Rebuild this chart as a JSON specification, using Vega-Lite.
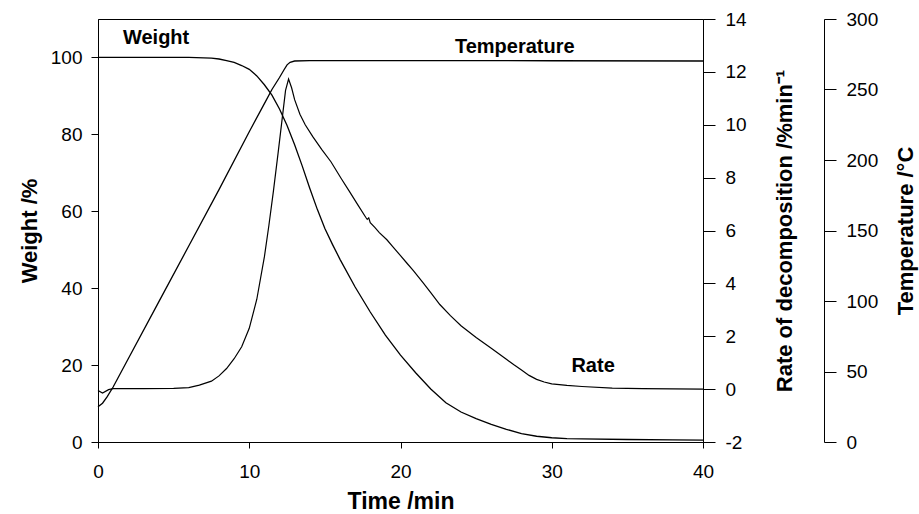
{
  "$schema": "https://vega.github.io/schema/vega-lite/v6.json",
  "width": 605,
  "height": 423,
  "autosize": {"type": "none"},
  "padding": {"left": 98, "top": 19, "right": 216, "bottom": 72},
  "background": "white",
  "config": {
    "view": {"stroke": "black", "strokeWidth": 1},
    "font": "Liberation Sans",
    "axis": {
      "grid": false,
      "domainColor": "black",
      "tickColor": "black",
      "labelColor": "black",
      "titleColor": "black",
      "labelFont": "Liberation Sans",
      "titleFont": "Liberation Sans",
      "labelFontSize": 19,
      "titleFontSize": 22,
      "titleFontWeight": "bold",
      "labelFlush": false,
      "labelExpr": "'' + datum.value"
    }
  },
  "datasets": {
    "weight": [
      {"t": 0, "W": 100}, {"t": 2, "W": 100}, {"t": 4, "W": 100}, {"t": 6, "W": 100},
      {"t": 7, "W": 99.9}, {"t": 7.5, "W": 99.8}, {"t": 8, "W": 99.6}, {"t": 8.5, "W": 99.2},
      {"t": 9, "W": 98.7}, {"t": 9.5, "W": 97.9}, {"t": 10, "W": 96.9}, {"t": 10.5, "W": 95.2},
      {"t": 11, "W": 92.9}, {"t": 11.5, "W": 90.2}, {"t": 12, "W": 86.6}, {"t": 12.5, "W": 82.3},
      {"t": 13, "W": 77.3}, {"t": 13.5, "W": 71.8}, {"t": 14, "W": 66}, {"t": 14.5, "W": 60.5},
      {"t": 15, "W": 55.5}, {"t": 15.5, "W": 51.4}, {"t": 16, "W": 47.5}, {"t": 17, "W": 40.3},
      {"t": 18, "W": 33.8}, {"t": 19, "W": 27.8}, {"t": 20, "W": 22.6}, {"t": 21, "W": 18},
      {"t": 22, "W": 13.8}, {"t": 23, "W": 10.2}, {"t": 24, "W": 7.8}, {"t": 25, "W": 6.1},
      {"t": 26, "W": 4.6}, {"t": 27, "W": 3.3}, {"t": 28, "W": 2.2}, {"t": 29, "W": 1.5},
      {"t": 30, "W": 1.1}, {"t": 31, "W": 0.9}, {"t": 32, "W": 0.8}, {"t": 35, "W": 0.65},
      {"t": 38, "W": 0.55}, {"t": 40, "W": 0.5}
    ],
    "rate": [
      {"t": 0, "R": -0.05}, {"t": 0.3, "R": -0.15}, {"t": 0.7, "R": -0.02}, {"t": 1, "R": 0.02},
      {"t": 3, "R": 0.02}, {"t": 5, "R": 0.03}, {"t": 6, "R": 0.06}, {"t": 6.7, "R": 0.15},
      {"t": 7.5, "R": 0.3}, {"t": 8, "R": 0.5}, {"t": 8.5, "R": 0.78}, {"t": 9, "R": 1.15},
      {"t": 9.5, "R": 1.6}, {"t": 10, "R": 2.3}, {"t": 10.5, "R": 3.4}, {"t": 11, "R": 5.0},
      {"t": 11.3, "R": 6.2}, {"t": 11.6, "R": 7.5}, {"t": 11.9, "R": 8.9}, {"t": 12.15, "R": 10.1},
      {"t": 12.4, "R": 11.3}, {"t": 12.6, "R": 11.73}, {"t": 12.8, "R": 11.4}, {"t": 13, "R": 10.95},
      {"t": 13.35, "R": 10.4}, {"t": 13.7, "R": 10.0}, {"t": 14.2, "R": 9.55}, {"t": 14.8, "R": 9.06},
      {"t": 15.4, "R": 8.6}, {"t": 16.1, "R": 7.95}, {"t": 16.6, "R": 7.5}, {"t": 17.2, "R": 6.95},
      {"t": 17.7, "R": 6.5}, {"t": 17.8, "R": 6.42}, {"t": 17.9, "R": 6.48}, {"t": 18.0, "R": 6.3},
      {"t": 18.3, "R": 6.12}, {"t": 18.6, "R": 5.92}, {"t": 19.1, "R": 5.65}, {"t": 19.5, "R": 5.38},
      {"t": 20, "R": 5.05}, {"t": 20.4, "R": 4.78}, {"t": 20.85, "R": 4.48}, {"t": 21.5, "R": 4.02},
      {"t": 22, "R": 3.65}, {"t": 22.6, "R": 3.2}, {"t": 23.3, "R": 2.78}, {"t": 24, "R": 2.4},
      {"t": 25, "R": 1.95}, {"t": 26, "R": 1.55}, {"t": 27, "R": 1.13}, {"t": 27.5, "R": 0.92},
      {"t": 28, "R": 0.72}, {"t": 28.5, "R": 0.52}, {"t": 29, "R": 0.37}, {"t": 29.5, "R": 0.27},
      {"t": 30, "R": 0.2}, {"t": 31, "R": 0.14}, {"t": 32, "R": 0.1}, {"t": 34, "R": 0.04},
      {"t": 36, "R": 0.02}, {"t": 40, "R": 0}
    ],
    "temp": [
      {"t": 0, "T": 25}, {"t": 0.3, "T": 27.5}, {"t": 0.6, "T": 32}, {"t": 1, "T": 39},
      {"t": 2, "T": 59}, {"t": 4, "T": 99}, {"t": 6, "T": 139}, {"t": 8, "T": 179},
      {"t": 10, "T": 220}, {"t": 11, "T": 240}, {"t": 11.5, "T": 250}, {"t": 12, "T": 258.5},
      {"t": 12.3, "T": 264}, {"t": 12.5, "T": 267.5}, {"t": 12.7, "T": 269.3}, {"t": 13, "T": 270.2},
      {"t": 14, "T": 270.5}, {"t": 20, "T": 270.5}, {"t": 30, "T": 270.4}, {"t": 40, "T": 270.2}
    ],
    "labels": [
      {"t": 1.65, "W": 103.6, "label": "Weight"},
      {"t": 23.6, "W": 101.2, "label": "Temperature"},
      {"t": 31.3, "W": 18.2, "label": "Rate"}
    ]
  },
  "encoding": {
    "x": {
      "field": "t", "type": "quantitative",
      "scale": {"domain": [0, 40], "nice": false},
      "axis": {"values": [0, 10, 20, 30, 40], "title": "Time /min", "titleFontSize": 23, "tickSize": 6, "labelPadding": 14, "titlePadding": 9}
    }
  },
  "layer": [
    {
      "layer": [
        {
          "data": {"name": "weight"},
          "mark": {"type": "line", "color": "black", "strokeWidth": 1.3},
          "encoding": {
            "y": {
              "field": "W", "type": "quantitative",
              "scale": {"domain": [0, 110], "nice": false},
              "axis": {"orient": "left", "values": [0, 20, 40, 60, 80, 100], "title": "Weight /%", "tickSize": 7, "labelPadding": 9, "titlePadding": 9}
            }
          }
        },
        {
          "data": {"name": "labels"},
          "mark": {"type": "text", "align": "left", "baseline": "alphabetic", "fontWeight": "bold", "fontSize": 20, "font": "Liberation Sans", "color": "black"},
          "encoding": {
            "y": {"field": "W", "type": "quantitative"},
            "text": {"field": "label"}
          }
        }
      ]
    },
    {
      "data": {"name": "rate"},
      "mark": {"type": "line", "color": "black", "strokeWidth": 1.2},
      "encoding": {
        "y": {
          "field": "R", "type": "quantitative",
          "scale": {"domain": [-2, 14], "nice": false},
          "axis": {"orient": "right", "values": [-2, 0, 2, 4, 6, 8, 10, 12, 14], "title": "Rate of decomposition /%min⁻¹", "titleAngle": 270, "tickSize": 12, "labelPadding": 10, "titlePadding": 50}
        }
      }
    },
    {
      "data": {"name": "temp"},
      "mark": {"type": "line", "color": "black", "strokeWidth": 1.3},
      "encoding": {
        "y": {
          "field": "T", "type": "quantitative",
          "scale": {"domain": [0, 300], "nice": false},
          "axis": {"orient": "right", "offset": 121, "values": [0, 50, 100, 150, 200, 250, 300], "title": "Temperature /°C", "titleAngle": 270, "tickSize": 12, "labelPadding": 10, "titlePadding": 40}
        }
      }
    }
  ],
  "resolve": {"scale": {"y": "independent"}}
}
